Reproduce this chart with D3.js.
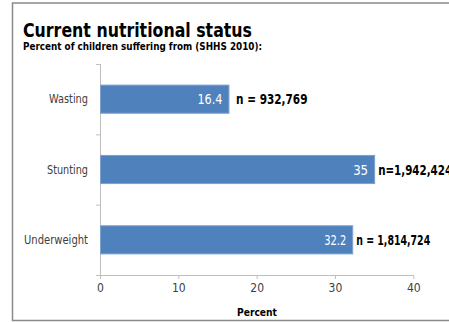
<!DOCTYPE html>
<html>
<head>
<meta charset="utf-8">
<script src="https://cdn.jsdelivr.net/npm/d3@7"></script>
<style>
  html, body { margin: 0; padding: 0; background: #fff; }
  svg { display: block; }
  text { font-family: "DejaVu Sans Condensed", "Liberation Sans", "Open Sans", sans-serif; white-space: pre; }
</style>
</head>
<body>
<svg id="chart" width="449" height="322"></svg>
<script>
const categories = ["Wasting", "Stunting", "Underweight"];
const values = [16.4, 35, 32.2];
const nLabels = [" n = 932,769", "n=1,942,424", "n = 1,814,724"];
const xTicks = [0, 10, 20, 30, 40];
const title = "Current nutritional status";
const subtitle = "Percent of children suffering from (SHHS 2010):";
const xTitle = "Percent";

const svg = d3.select("#chart");

// frame
svg.append("path")
  .attr("d", "M449,3 H12.5 V320.5 H449")
  .attr("fill", "none").attr("stroke", "#8a8a8a").attr("stroke-width", 1.5);

svg.append("text").attr("x", 23).attr("y", 36.5)
  .attr("font-size", 19.5).attr("font-weight", "bold").attr("fill", "#000")
  .attr("textLength", 229).attr("lengthAdjust", "spacingAndGlyphs")
  .text(title);
svg.append("text").attr("x", 23).attr("y", 49.5)
  .attr("font-size", 10.5).attr("font-weight", "bold").attr("fill", "#000")
  .attr("textLength", 239).attr("lengthAdjust", "spacingAndGlyphs")
  .text(subtitle);

const x = d3.scaleLinear().domain([0, 40]).range([100, 413.3]);
const y = d3.scaleBand().domain(categories).range([64, 275]).paddingInner(0.6).paddingOuter(0.3);

// x axis
const xAxis = d3.axisBottom(x).tickValues(xTicks).tickSize(4).tickPadding(5).tickFormat(d3.format("d"));
const gx = svg.append("g").attr("transform", "translate(0,275)").call(xAxis);
gx.select(".domain").attr("stroke", "#bfbfbf").attr("d", "M100,0.5H413.3");
gx.selectAll(".tick line").attr("stroke", "#bfbfbf").attr("y2", 4);
gx.selectAll(".tick text").attr("font-size", 12).attr("fill", "#404040")
  .attr("dy", null).attr("y", 16.5)
  .style("font-family", "'DejaVu Sans Condensed', sans-serif");

// y axis line and ticks
const yLine = d3.scaleLinear().domain([0, 3]).range([64, 275]);
svg.append("line").attr("x1", 100.5).attr("x2", 100.5).attr("y1", 64).attr("y2", 275)
  .attr("stroke", "#bfbfbf");
svg.selectAll(".ytick").data([0, 1, 2, 3]).join("line")
  .attr("x1", 96).attr("x2", 100.5)
  .attr("y1", d => yLine(d) + 0.5).attr("y2", d => yLine(d) + 0.5)
  .attr("stroke", "#bfbfbf");

const catWidths = { "Wasting": 39, "Stunting": 41, "Underweight": 64 };
svg.selectAll(".cat").data(categories).join("text")
  .attr("x", 88).attr("y", d => y(d) + y.bandwidth() / 2 + 4)
  .attr("text-anchor", "end").attr("font-size", 12).attr("fill", "#404040")
  .attr("textLength", d => catWidths[d]).attr("lengthAdjust", "spacingAndGlyphs")
  .text(d => d);

// bars
svg.selectAll(".bar").data(values).join("rect")
  .attr("x", x(0) + 0.5)
  .attr("y", (d, i) => y(categories[i]))
  .attr("width", d => x(d) - x(0))
  .attr("height", y.bandwidth())
  .attr("fill", "#4f81bd").attr("stroke", "#7ea0cf").attr("stroke-width", 1);

const valWidths = [25, 15, 22];
svg.selectAll(".val").data(values).join("text")
  .attr("x", d => x(d) - 6)
  .attr("y", (d, i) => y(categories[i]) + y.bandwidth() / 2 + 5)
  .attr("text-anchor", "end").attr("font-size", 14).attr("fill", "#fff")
  .attr("textLength", (d, i) => valWidths[i]).attr("lengthAdjust", "spacingAndGlyphs")
  .text(d => String(d));

const nWidths = [75, 74, 74];
svg.selectAll(".nlab").data(values).join("text")
  .attr("x", d => x(d) + 4)
  .attr("y", (d, i) => y(categories[i]) + y.bandwidth() / 2 + 5)
  .attr("font-size", 13.5).attr("font-weight", "bold").attr("fill", "#000")
  .attr("textLength", (d, i) => nWidths[i]).attr("lengthAdjust", "spacingAndGlyphs")
  .text((d, i) => nLabels[i]);

svg.append("text").attr("x", 257).attr("y", 316).attr("text-anchor", "middle")
  .attr("font-size", 11).attr("font-weight", "bold").attr("fill", "#000")
  .attr("textLength", 40).attr("lengthAdjust", "spacingAndGlyphs")
  .text(xTitle);
</script>
</body>
</html>
